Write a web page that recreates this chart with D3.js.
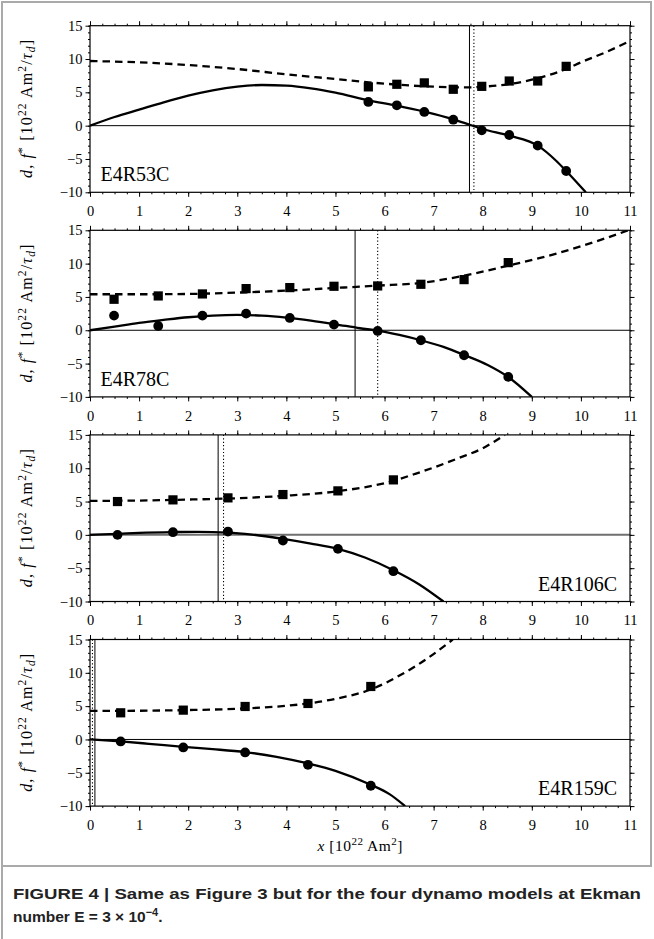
<!DOCTYPE html>
<html>
<head>
<meta charset="utf-8">
<script src="https://cdn.jsdelivr.net/npm/d3@7"></script>
<style>
  body { margin: 0; background: #fff; }
  svg text { font-family: "Liberation Serif", "DejaVu Serif", serif; fill: #000; }
  svg text.cap { font-family: "Liberation Sans", Arial, sans-serif; font-weight: bold; fill: #222; }
</style>
</head>
<body>
<script>
// ---- data (x in 10^22 Am^2, values in 10^22 Am^2/tau_d) ----
var names = ["E4R53C", "E4R78C", "E4R106C", "E4R159C"];
var labelSide = ["left", "left", "right", "right"];

// simulation points: x, f* (circles), d (squares)
var x53 = [5.67, 6.25, 6.81, 7.40, 7.98, 8.54, 9.12, 9.70];
var f53 = [3.56, 3.05, 2.06, 0.90, -0.70, -1.40, -3.00, -6.80];
var d53 = [5.82, 6.21, 6.42, 5.46, 5.90, 6.70, 6.70, 8.90];

var x78 = [0.49, 1.39, 2.29, 3.18, 4.07, 4.97, 5.86, 6.74, 7.62, 8.52];
var f78 = [2.20, 0.65, 2.20, 2.50, 1.85, 0.85, -0.10, -1.50, -3.75, -7.00];
var d78 = [4.65, 5.15, 5.45, 6.25, 6.40, 6.60, 6.65, 6.90, 7.60, 10.15];

var x106 = [0.56, 1.69, 2.81, 3.93, 5.05, 6.18];
var f106 = [0.00, 0.40, 0.50, -0.85, -2.10, -5.45];
var d106 = [5.00, 5.25, 5.55, 6.05, 6.60, 8.25];

var x159 = [0.625, 1.90, 3.16, 4.44, 5.72];
var f159 = [-0.30, -1.20, -1.95, -3.80, -6.95];
var d159 = [4.00, 4.40, 4.95, 5.40, 7.95];

// fitted curves, read as [x, value] points along the drawn lines
var fFit53 = [[0,0],[0.5,1.3],[1,2.4],[1.5,3.5],[2,4.5],[2.5,5.3],[3,5.85],[3.5,6.1],[4,6.0],[4.5,5.6],[5,4.95],[5.67,3.8],[6.25,3.0],[6.81,2.1],[7.4,0.95],[7.75,0.1],[8,-0.5],[8.54,-1.5],[9.12,-3.0],[9.5,-5.3],[9.7,-6.8],[10.1,-10]];
var dFit53 = [[0,9.7],[1,9.5],[2,9.1],[3,8.5],[4,7.7],[5,7.0],[6,6.3],[7,5.85],[7.75,5.75],[8,5.85],[8.5,6.2],[9,6.9],[9.7,8.5],[10,9.5],[10.5,11.0],[11,12.7]];

var fFit78 = [[0,0],[0.5,0.55],[1,1.1],[1.5,1.55],[2,1.95],[2.5,2.2],[3,2.3],[3.5,2.2],[4,1.9],[4.5,1.45],[5,0.9],[5.5,0.3],[5.86,-0.05],[6.3,-0.7],[6.74,-1.5],[7.2,-2.5],[7.62,-3.7],[8.1,-5.2],[8.52,-7.0],[9.0,-10]];
var dFit78 = [[0,5.4],[1,5.4],[2,5.45],[3,5.65],[4,5.95],[5,6.35],[5.86,6.7],[6.74,7.1],[7.62,8.2],[8.52,9.7],[9.5,11.5],[10,12.6],[10.5,13.8],[11,15.1]];

var fFit106 = [[0,0],[0.56,0.15],[1,0.3],[1.69,0.42],[2.2,0.45],[2.81,0.35],[3.3,0.05],[3.93,-0.6],[4.5,-1.3],[5.05,-2.1],[5.6,-3.4],[6.18,-5.3],[6.7,-7.4],[7.2,-10]];
var dFit106 = [[0,5.1],[1,5.15],[2,5.3],[2.81,5.45],[3.93,5.85],[5.05,6.55],[6.18,8.1],[6.6,9.1],[7,10.1],[7.5,11.5],[8,13.0],[8.45,15.0]];

var fFit159 = [[0,0],[0.625,-0.3],[1.2,-0.65],[1.9,-1.1],[2.5,-1.45],[3.16,-1.9],[3.8,-2.6],[4.44,-3.6],[5,-4.7],[5.72,-6.8],[6.1,-8.2],[6.42,-10]];
var dFit159 = [[0,4.3],[0.625,4.3],[1.9,4.4],[3.16,4.65],[4,5.05],[4.44,5.4],[5,6.1],[5.72,7.5],[6.38,9.9],[6.9,12.3],[7.39,15]];

// vertical markers (solid / dotted)
var vSolid = [7.73, 5.40, 2.61, 0.10];
var vDotted = [7.82, 5.86, 2.72, 0.05];

var xTicks = d3.range(0, 12);
var yTicks = [-10, -5, 0, 5, 10, 15];

// ---- layout ----
var W = 654, H = 939;
var left = 90, right = 630, top0 = 25.7, step = 204.6, ph = 166.6;
var serif = '"Liberation Serif", "DejaVu Serif", serif';

var svg = d3.select("body").append("svg").attr("width", W).attr("height", H);

// outer frame
svg.append("path")
  .attr("d", "M2,939 L2,2 L651,2 L651,866 L2,866")
  .attr("fill", "none").attr("stroke", "#aaa").attr("stroke-width", 2);

var x = d3.scaleLinear().domain([0, 11]).range([left, right]);

var sets = [
  {px: x53, f: f53, d: d53, fFit: fFit53, dFit: dFit53},
  {px: x78, f: f78, d: d78, fFit: fFit78, dFit: dFit78},
  {px: x106, f: f106, d: d106, fFit: fFit106, dFit: dFit106},
  {px: x159, f: f159, d: d159, fFit: fFit159, dFit: dFit159}
];

sets.forEach(function(s, i) {
  var top = top0 + i * step, bot = top + ph;
  var y = d3.scaleLinear().domain([-10, 15]).range([bot, top]);
  var g = svg.append("g");

  g.append("clipPath").attr("id", "clip" + i)
    .append("rect").attr("x", left).attr("y", top).attr("width", right - left).attr("height", ph);

  // axes: major and minor ticks, outward on all sides
  var minorX = d3.range(0, 11.01, 0.25), minorY = d3.range(-10, 15.01, 1);
  function axis(gen, tr, vals, size, labels, pad) {
    var a = g.append("g").attr("transform", tr)
      .call(gen.tickValues(vals).tickSize(size).tickPadding(pad || 3)
        .tickFormat(labels ? null : ""));
    a.attr("font-family", null).attr("font-size", null);
    a.select(".domain").remove();
    a.selectAll("line").attr("stroke", "#000").attr("stroke-width", 1);
    a.selectAll("text").style("font-size", "14.5px").style("font-family", serif);
    return a;
  }
  axis(d3.axisBottom(x), "translate(0," + bot + ")", minorX, 2);
  axis(d3.axisBottom(x), "translate(0," + bot + ")", xTicks, 4.5, true, 9);
  axis(d3.axisTop(x), "translate(0," + top + ")", minorX, 2);
  axis(d3.axisTop(x), "translate(0," + top + ")", xTicks, 4.5);
  axis(d3.axisLeft(y), "translate(" + left + ",0)", minorY, 2);
  axis(d3.axisLeft(y), "translate(" + left + ",0)", yTicks, 4.5, true, 3);
  axis(d3.axisRight(y), "translate(" + right + ",0)", minorY, 2);
  axis(d3.axisRight(y), "translate(" + right + ",0)", yTicks, 4.5);

  var c = g.append("g").attr("clip-path", "url(#clip" + i + ")");

  // zero line
  c.append("line").attr("x1", left).attr("x2", right).attr("y1", y(0)).attr("y2", y(0))
    .attr("stroke", i === 2 ? "#6f6f6f" : "#000").attr("stroke-width", i === 2 ? 2 : 1);

  // vertical markers
  c.append("line").attr("x1", x(vSolid[i])).attr("x2", x(vSolid[i])).attr("y1", top).attr("y2", bot)
    .attr("stroke", "#000").attr("stroke-width", 1);
  c.append("line").attr("x1", x(vDotted[i])).attr("x2", x(vDotted[i])).attr("y1", top).attr("y2", bot)
    .attr("stroke", "#000").attr("stroke-width", 1.1).attr("stroke-dasharray", "1.2,2.2");

  var line = d3.line().x(function(p) { return x(p[0]); }).y(function(p) { return y(p[1]); })
    .curve(d3.curveMonotoneX);

  c.append("path").attr("d", line(s.fFit)).attr("fill", "none")
    .attr("stroke", "#000").attr("stroke-width", 2.3);
  c.append("path").attr("d", line(s.dFit)).attr("fill", "none")
    .attr("stroke", "#000").attr("stroke-width", 2.3).attr("stroke-dasharray", "7.5,5");

  c.selectAll(".sq").data(s.px).enter().append("rect")
    .attr("x", function(v) { return x(v) - 4.6; })
    .attr("y", function(v, k) { return y(s.d[k]) - 4.6; })
    .attr("width", 9.2).attr("height", 9.2).attr("fill", "#000");
  c.selectAll(".ci").data(s.px).enter().append("circle")
    .attr("cx", function(v) { return x(v); })
    .attr("cy", function(v, k) { return y(s.f[k]); })
    .attr("r", 4.9).attr("fill", "#000");

  // frame
  g.append("rect").attr("x", left).attr("y", top).attr("width", right - left).attr("height", ph)
    .attr("fill", "none").attr("stroke", "#000").attr("stroke-width", 1.2);

  // model name
  var lt = g.append("text").style("font-size", "20px").attr("y", bot - 11).text(names[i]);
  if (labelSide[i] === "left") lt.attr("x", left + 10.5);
  else lt.attr("x", right - 13).attr("text-anchor", "end");

  // y-axis title
  var yt = g.append("text").style("font-size", "16px").attr("text-anchor", "middle")
    .attr("textLength", 138).attr("lengthAdjust", "spacing")
    .attr("transform", "translate(32," + (top + ph / 2) + ") rotate(-90)");
  yt.append("tspan").attr("font-style", "italic").text("d");
  yt.append("tspan").text(", ");
  yt.append("tspan").attr("font-style", "italic").text("f");
  yt.append("tspan").style("font-size", "11.5px").attr("dy", -6).text("*");
  yt.append("tspan").attr("dy", 6).text("  [10");
  yt.append("tspan").style("font-size", "11.5px").attr("dy", -6).text("22");
  yt.append("tspan").attr("dy", 6).text(" Am");
  yt.append("tspan").style("font-size", "11.5px").attr("dy", -6).text("2");
  yt.append("tspan").attr("dy", 6).text("/");
  yt.append("tspan").attr("font-style", "italic").text("τ");
  yt.append("tspan").attr("font-style", "italic").style("font-size", "11.5px").attr("dy", 3).text("d");
  yt.append("tspan").attr("dy", -3).text("]");
});

// x-axis title
var xt = svg.append("text").style("font-size", "15.5px").attr("text-anchor", "middle")
  .attr("textLength", 85).attr("lengthAdjust", "spacing")
  .attr("x", (left + right) / 2).attr("y", 851);
xt.append("tspan").attr("font-style", "italic").text("x");
xt.append("tspan").text(" [10");
xt.append("tspan").style("font-size", "11px").attr("dy", -6).text("22");
xt.append("tspan").attr("dy", 6).text(" Am");
xt.append("tspan").style("font-size", "11px").attr("dy", -6).text("2");
xt.append("tspan").attr("dy", 6).text("]");

// caption
svg.append("text").attr("class", "cap").style("font-size", "15.5px").attr("x", 13).attr("y", 899)
  .attr("textLength", 628).attr("lengthAdjust", "spacingAndGlyphs")
  .text("FIGURE 4 | Same as Figure 3 but for the four dynamo models at Ekman");
var c2 = svg.append("text").attr("class", "cap").style("font-size", "15.5px").attr("x", 13).attr("y", 922);
c2.append("tspan").text("number E = 3 × 10");
c2.append("tspan").style("font-size", "11px").attr("dy", -6).text("−4");
c2.append("tspan").attr("dy", 6).text(".");
</script>
</body>
</html>
